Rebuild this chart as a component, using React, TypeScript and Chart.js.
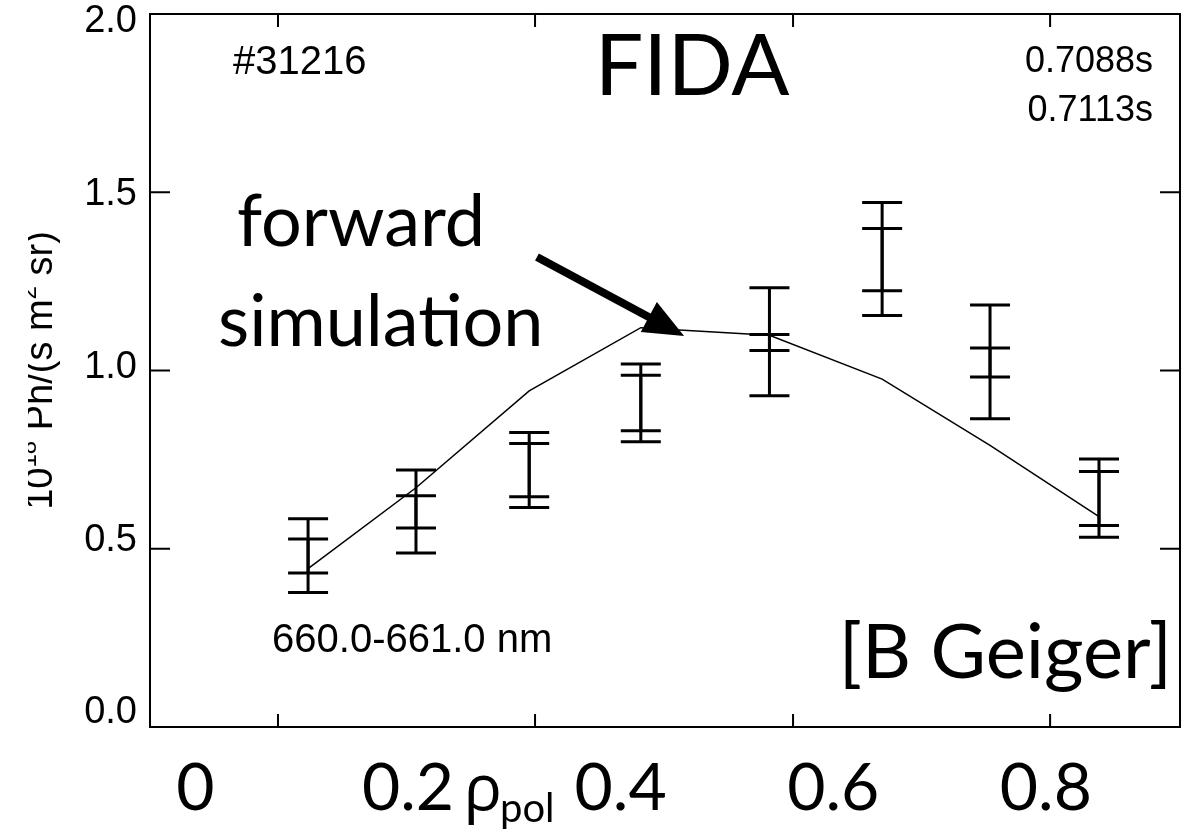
import React, { useEffect, useRef } from 'react';
import { Chart, registerables } from 'chart.js';

Chart.register(...registerables);

// ---- data ----
const rho = [0.106, 0.2075, 0.314, 0.419, 0.54, 0.646, 0.7475, 0.85];
const simulation = [0.444, 0.671, 0.943, 1.12, 1.099, 0.976, 0.79, 0.59];
// time 1 (0.7088s) measured band
const fidaLo1 = [0.377, 0.488, 0.616, 0.8, 0.929, 1.154, 0.865, 0.532];
const fidaHi1 = [0.527, 0.649, 0.795, 0.987, 1.101, 1.398, 1.063, 0.717];
// time 2 (0.7113s) measured band
const fidaLo2 = [0.432, 0.558, 0.646, 0.831, 1.056, 1.224, 0.982, 0.565];
const fidaHi2 = [0.584, 0.721, 0.826, 1.018, 1.232, 1.471, 1.184, 0.752];

const xLabelValues = [0, 0.2, 0.4, 0.6, 0.8];
const xLabels = ['0', '0.2', '0.4', '0.6', '0.8'];
const xTickMarks = [0.0777, 0.3195, 0.5622, 0.804];
const yTickValues = [0, 0.5, 1.0, 1.5, 2.0];
const yTickLabels = ['0.0', '0.5', '1.0', '1.5', '2.0'];

const X_MIN = -0.0427;
const X_MAX = 0.9262;
const Y_MIN = 0;
const Y_MAX = 2;

const SANS = "'Liberation Sans', Arial, Helvetica, sans-serif";
const HUMAN = "Lato, 'Open Sans', sans-serif";
const GREEK = "'Open Sans', 'Noto Sans', sans-serif";

const errorBarPlugin = {
  id: 'errorBars',
  afterDatasetsDraw(chart: any) {
    const ctx = chart.ctx;
    const xs = chart.scales.x;
    const ys = chart.scales.y;
    ctx.save();
    ctx.strokeStyle = '#000';
    ctx.lineWidth = 3;
    ctx.lineCap = 'butt';
    const bands = [
      [fidaLo1, fidaHi1],
      [fidaLo2, fidaHi2],
    ];
    rho.forEach((r, i) => {
      const x = xs.getPixelForValue(r);
      bands.forEach(([lo, hi]) => {
        const yl = ys.getPixelForValue(lo[i]);
        const yh = ys.getPixelForValue(hi[i]);
        ctx.beginPath();
        ctx.moveTo(x, yl);
        ctx.lineTo(x, yh);
        ctx.moveTo(x - 20, yl);
        ctx.lineTo(x + 20, yl);
        ctx.moveTo(x - 20, yh);
        ctx.lineTo(x + 20, yh);
        ctx.stroke();
      });
    });
    ctx.restore();
  },
};

const framePlugin = {
  id: 'frame',
  afterDraw(chart: any) {
    const ctx = chart.ctx;
    const ca = chart.chartArea;
    const xs = chart.scales.x;
    const ys = chart.scales.y;
    ctx.save();
    ctx.strokeStyle = '#000';
    ctx.lineWidth = 2;
    ctx.strokeRect(ca.left, ca.top, ca.right - ca.left, ca.bottom - ca.top);
    ctx.beginPath();
    yTickValues.forEach((v) => {
      const y = ys.getPixelForValue(v);
      ctx.moveTo(ca.left, y);
      ctx.lineTo(ca.left + 20, y);
      ctx.moveTo(ca.right, y);
      ctx.lineTo(ca.right - 20, y);
    });
    xTickMarks.forEach((v) => {
      const x = xs.getPixelForValue(v);
      ctx.moveTo(x, ca.bottom);
      ctx.lineTo(x, ca.bottom - 13);
      ctx.moveTo(x, ca.top);
      ctx.lineTo(x, ca.top + 13);
    });
    ctx.stroke();

    // y-axis title (clipped on its left as in the source figure)
    ctx.save();
    ctx.beginPath();
    ctx.rect(28, 0, 2000, 2000);
    ctx.clip();
    const cy = (ca.top + ca.bottom) / 2;
    ctx.translate(52, cy);
    ctx.rotate(-Math.PI / 2);
    const parts: [string, number, number][] = [
      ['10', 38, 0],
      ['18', 24, -16],
      [' Ph/(s m', 38, 0],
      ['2', 24, -16],
      [' sr)', 38, 0],
    ];
    let total = 0;
    parts.forEach(([t, s]) => {
      ctx.font = `${s}px ${SANS}`;
      total += ctx.measureText(t).width;
    });
    let px = -total / 2;
    ctx.fillStyle = '#000';
    ctx.textBaseline = 'alphabetic';
    ctx.textAlign = 'left';
    parts.forEach(([t, s, dy]) => {
      ctx.font = `${s}px ${SANS}`;
      ctx.fillText(t, px, dy);
      px += ctx.measureText(t).width;
    });
    ctx.restore();

    // annotations
    const X = (v: number) => xs.getPixelForValue(v);
    const Y = (v: number) => ys.getPixelForValue(v);
    ctx.fillStyle = '#000';
    ctx.textBaseline = 'alphabetic';

    ctx.font = `40px ${SANS}`;
    ctx.textAlign = 'left';
    ctx.fillText('#31216', X(0.0354), Y(1.8315));
    ctx.fillText('660.0-661.0 nm', X(0.0721), Y(0.2111));

    ctx.font = `36px ${SANS}`;
    ctx.textAlign = 'right';
    ctx.fillText('0.7088s', X(0.9008), Y(1.8371));
    ctx.fillText('0.7113s', X(0.9008), Y(1.6998));

    ctx.font = `86px ${HUMAN}`;
    ctx.textAlign = 'center';
    ctx.fillText('FIDA', X(0.4672), Y(1.7727));

    ctx.font = `72px ${HUMAN}`;
    ctx.textAlign = 'left';
    ctx.fillText('forward', X(0.0391), Y(1.3493));
    ctx.fillText('simulation', X(0.0213), Y(1.069));

    ctx.font = `76px ${HUMAN}`;
    ctx.textAlign = 'right';
    ctx.fillText('[B Geiger]', X(0.9187), Y(0.1382));

    // arrow
    const tx = X(0.3213), ty = Y(1.3186);
    const hx = X(0.4597), hy = Y(1.0971);
    const ang = Math.atan2(hy - ty, hx - tx);
    const headLen = 40, headHalf = 17;
    const bx = hx - headLen * Math.cos(ang);
    const by = hy - headLen * Math.sin(ang);
    ctx.lineWidth = 8;
    ctx.beginPath();
    ctx.moveTo(tx, ty);
    ctx.lineTo(bx + 2 * Math.cos(ang), by + 2 * Math.sin(ang));
    ctx.stroke();
    ctx.beginPath();
    ctx.moveTo(hx, hy);
    ctx.lineTo(bx - headHalf * Math.sin(ang), by + headHalf * Math.cos(ang));
    ctx.lineTo(bx + headHalf * Math.sin(ang), by - headHalf * Math.cos(ang));
    ctx.closePath();
    ctx.fill();

    // rho_pol axis label between tick labels
    const rx = X(0.296);
    const base = ca.bottom + 83;
    ctx.font = `64px ${GREEK}`;
    const w1 = ctx.measureText('ρ').width;
    ctx.font = `40px ${HUMAN}`;
    const w2 = ctx.measureText('pol').width;
    const sx = rx - (w1 + w2) / 2;
    ctx.textAlign = 'left';
    ctx.font = `64px ${GREEK}`;
    ctx.fillText('ρ', sx, base);
    ctx.font = `40px ${HUMAN}`;
    ctx.fillText('pol', sx + w1 - 2, base + 12);

    ctx.restore();
  },
};

export default function App() {
  const ref = useRef<HTMLCanvasElement | null>(null);

  useEffect(() => {
    if (!ref.current) return;
    const chart = new Chart(ref.current, {
      type: 'line',
      data: {
        datasets: [
          {
            label: 'forward simulation',
            data: rho.map((r, i) => ({ x: r, y: simulation[i] })),
            borderColor: '#000',
            borderWidth: 1.5,
            pointRadius: 0,
            tension: 0,
            fill: false,
            xAxisID: 'x',
            yAxisID: 'y',
          },
        ],
      },
      options: {
        animation: false,
        responsive: false,
        maintainAspectRatio: false,
        layout: { padding: { left: 0, right: 23, top: 14, bottom: 0 } },
        plugins: {
          legend: { display: false },
          tooltip: { enabled: false },
        },
        scales: {
          x: {
            type: 'linear',
            position: 'bottom',
            min: X_MIN,
            max: X_MAX,
            grid: { display: false, drawTicks: false },
            border: { display: false },
            ticks: {
              color: '#000',
              font: { family: HUMAN, size: 66 },
              padding: 22,
              autoSkip: false,
              maxRotation: 0,
              callback: (v: any) => {
                const idx = xLabelValues.findIndex((t) => Math.abs(t - Number(v)) < 1e-6);
                return idx >= 0 ? xLabels[idx] : '';
              },
            },
            afterBuildTicks: (s: any) => {
              s.ticks = xLabelValues.map((v) => ({ value: v }));
            },
            afterFit: (s: any) => {
              s.height = 113;
              s.paddingLeft = 0;
              s.paddingRight = 0;
            },
          },
          y: {
            type: 'linear',
            display: false,
            min: Y_MIN,
            max: Y_MAX,
          },
          yl: {
            type: 'linear',
            position: 'left',
            min: -0.0405,
            max: 2.0232,
            grid: { display: false, drawTicks: false },
            border: { display: false },
            ticks: {
              color: '#000',
              font: { family: SANS, size: 38 },
              padding: 13,
              callback: (v: any) => {
                const idx = yTickValues.findIndex((t) => Math.abs(t - Number(v)) < 1e-6);
                return idx >= 0 ? yTickLabels[idx] : '';
              },
            },
            afterBuildTicks: (s: any) => {
              s.ticks = yTickValues.map((v) => ({ value: v }));
            },
            afterFit: (s: any) => {
              s.width = 150;
              s.paddingTop = 0;
              s.paddingBottom = 0;
            },
          },
        },
      } as any,
      plugins: [errorBarPlugin, framePlugin],
    });
    return () => chart.destroy();
  }, []);

  return (
    <div style={{ position: 'absolute', left: 0, top: 0, width: 1203, height: 840, background: '#fff' }}>
      <canvas ref={ref} width={1203} height={840} />
    </div>
  );
}
